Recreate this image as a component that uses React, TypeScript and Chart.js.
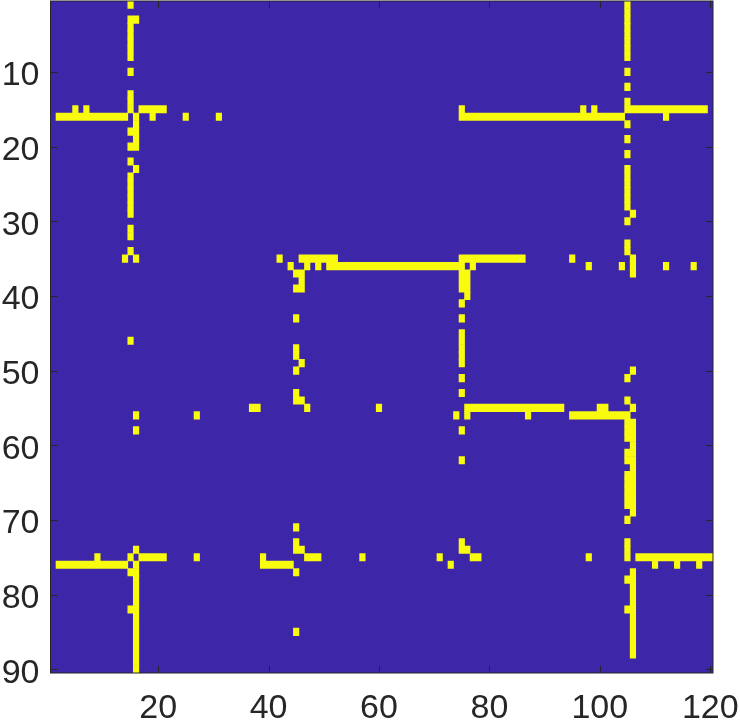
import React, { useEffect, useRef } from "react";
import { Chart, registerables } from "chart.js";

Chart.register(...registerables);

// Matrix size
const columnCount = 120;
const rowCount = 90;

// Tick labels
const xTickValues = [20, 40, 60, 80, 100, 120];
const yTickValues = [10, 20, 30, 40, 50, 60, 70, 80, 90];

// Non-zero (yellow) cells: row number -> columns ("a-b" is a run of columns)
const yellowByRow: [number, string][] = [
  [1, "15 105"],
  [2, "105"],
  [3, "15-16 105"],
  [4, "15 105"],
  [5, "15 105"],
  [6, "15 105"],
  [7, "15 105"],
  [8, "15 105"],
  [10, "15 105"],
  [12, "105"],
  [13, "15"],
  [14, "15 105"],
  [15, "5 7 15 17-21 75 97 99 105-119"],
  [16, "2-14 16 19 25 31 75-104 112"],
  [17, "16 105"],
  [18, "15-16"],
  [19, "16 105"],
  [20, "15-16"],
  [21, "105"],
  [22, "15"],
  [23, "16 105"],
  [24, "15 105"],
  [25, "15 105"],
  [26, "15 105"],
  [27, "15 105"],
  [28, "15 105"],
  [29, "15 106"],
  [30, "105"],
  [31, "15"],
  [32, "15"],
  [33, "105"],
  [34, "15 105"],
  [35, "14 16 42 46-52 75-86 95 106"],
  [36, "44 47 49 51-75 77 98 104 106 112 117"],
  [37, "45-46 75-76 106"],
  [38, "46 75-76"],
  [39, "45-46 75-76"],
  [40, "76"],
  [41, "75"],
  [43, "45 75"],
  [45, "75"],
  [46, "15 75"],
  [47, "45 75"],
  [48, "45 75"],
  [49, "46 75"],
  [50, "45 106"],
  [51, "75 105"],
  [53, "45 75"],
  [54, "45-46 105"],
  [55, "37-38 47 60 76-93 100-101 106"],
  [56, "16 27 74 76 87 95-105"],
  [57, "105-106"],
  [58, "16 75 105-106"],
  [59, "105-106"],
  [60, "106"],
  [61, "105-106"],
  [62, "75 105-106"],
  [63, "106"],
  [64, "105-106"],
  [65, "105-106"],
  [66, "105-106"],
  [67, "105-106"],
  [68, "105-106"],
  [69, "106"],
  [70, "105"],
  [71, "45"],
  [73, "45 75 105"],
  [74, "16 45-46 75-76 105"],
  [75, "9 15 17-21 27 39 47-49 57 71 77-78 98 105 107-120"],
  [76, "2-14 16 39-44 73 110 114 118"],
  [77, "15-16 45 106"],
  [78, "16 105-106"],
  [79, "16 106"],
  [80, "16 106"],
  [81, "16 106"],
  [82, "15-16 105-106"],
  [83, "16 106"],
  [84, "16 106"],
  [85, "16 45 106"],
  [86, "16 106"],
  [87, "16 106"],
  [88, "16 106"],
  [89, "16"],
  [90, "16"],
];

const BLUE = "#3E26A8";
const YELLOW = "#F9FB0E";
const AXIS_COLOR = "#262626";
const FONT = { family: "'Liberation Sans', Arial, Helvetica, sans-serif", size: 34 };

function buildRuns() {
  const out: { x: [number, number]; y: number }[] = [];
  for (const [row, spec] of yellowByRow) {
    for (const part of spec.split(" ")) {
      const [a, b] = part.split("-").map(Number);
      const end = b === undefined ? a : b;
      out.push({ x: [a - 0.5, end + 0.5], y: row });
    }
  }
  return out;
}

const framePlugin = {
  id: "matrixFrame",
  beforeDatasetsDraw(chart: any) {
    const { ctx, chartArea: a } = chart;
    ctx.save();
    ctx.fillStyle = BLUE;
    ctx.fillRect(a.left, a.top, a.right - a.left, a.bottom - a.top);
    ctx.restore();
  },
  afterDraw(chart: any) {
    const { ctx, chartArea: a, scales } = chart;
    const len = 7;
    ctx.save();
    ctx.strokeStyle = AXIS_COLOR;
    ctx.lineWidth = 1;
    ctx.beginPath();
    for (const t of scales.x.ticks) {
      const px = Math.round(scales.x.getPixelForValue(t.value)) + 0.5;
      ctx.moveTo(px, a.bottom);
      ctx.lineTo(px, a.bottom - len);
      ctx.moveTo(px, a.top);
      ctx.lineTo(px, a.top + len);
    }
    for (const t of scales.y.ticks) {
      const py = Math.round(scales.y.getPixelForValue(t.value)) + 0.5;
      ctx.moveTo(a.left, py);
      ctx.lineTo(a.left + len, py);
      ctx.moveTo(a.right, py);
      ctx.lineTo(a.right - len, py);
    }
    ctx.stroke();
    ctx.strokeRect(a.left, a.top, a.right - a.left, a.bottom - a.top);
    ctx.restore();
  },
};

export default function App() {
  const canvasRef = useRef<HTMLCanvasElement | null>(null);

  useEffect(() => {
    const canvas = canvasRef.current;
    if (!canvas) return;
    const chart = new Chart(canvas, {
      type: "bar",
      data: {
        datasets: [
          {
            data: buildRuns() as any,
            backgroundColor: YELLOW,
            borderWidth: 0,
            barPercentage: 1,
            categoryPercentage: 1,
          },
        ],
      },
      options: {
        indexAxis: "y",
        animation: false,
        responsive: false,
        maintainAspectRatio: false,
        devicePixelRatio: 1,
        layout: { padding: { top: 1, right: 27, left: 0, bottom: 0 } },
        plugins: { legend: { display: false }, tooltip: { enabled: false } },
        scales: {
          x: {
            type: "linear",
            position: "bottom",
            min: 0.5,
            max: columnCount + 0.5,
            offset: false,
            grid: { display: false, drawTicks: false, tickLength: 0 },
            border: { display: false },
            ticks: { font: FONT, color: AXIS_COLOR, padding: 15, maxRotation: 0, autoSkip: false },
            afterBuildTicks: (s: any) => {
              s.ticks = xTickValues.map((v) => ({ value: v }));
            },
            afterFit: (s: any) => {
              s.height = 48;
              s.paddingLeft = 0;
              s.paddingRight = 0;
            },
          },
          y: {
            type: "linear",
            position: "left",
            reverse: true,
            min: 0.5,
            max: rowCount + 0.5,
            offset: false,
            grid: { display: false, drawTicks: false, tickLength: 0 },
            border: { display: false },
            ticks: { font: FONT, color: AXIS_COLOR, padding: 11, labelOffset: 4, autoSkip: false },
            afterBuildTicks: (s: any) => {
              s.ticks = yTickValues.map((v) => ({ value: v }));
            },
            afterFit: (s: any) => {
              s.width = 50.5;
              s.paddingTop = 0;
              s.paddingBottom = 0;
            },
          },
        },
      },
      plugins: [framePlugin],
    });
    return () => chart.destroy();
  }, []);

  return (
    <div style={{ position: "fixed", left: 0, top: 0, width: 740, height: 721, background: "#fff" }}>
      <canvas ref={canvasRef} width={740} height={721} style={{ display: "block", width: 740, height: 721 }} />
    </div>
  );
}
